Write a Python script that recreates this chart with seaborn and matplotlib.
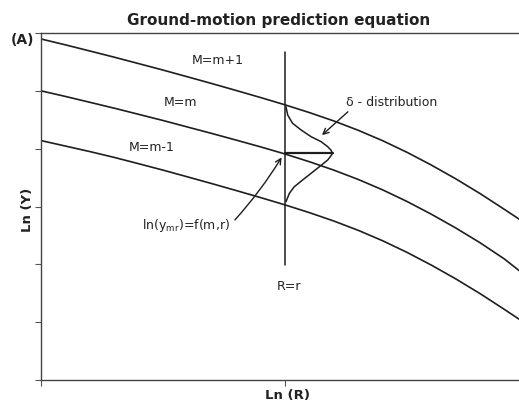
import numpy as np
import pandas as pd
import matplotlib
matplotlib.use("Agg")
import matplotlib.pyplot as plt
import seaborn as sns

# ---- data (axis units: x tick spacing = 1, y tick spacing = 1) ----
ln_r = [0.0, 0.1, 0.2, 0.3, 0.4, 0.5, 0.6, 0.7, 0.8, 0.9, 1.0,
        1.1, 1.2, 1.3, 1.4, 1.5, 1.6, 1.7, 1.8, 1.9, 1.96]
m_plus_1 = [5.897, 5.795, 5.689, 5.582, 5.471, 5.359, 5.243, 5.126, 5.006, 4.884, 4.758,
            4.624, 4.479, 4.318, 4.138, 3.937, 3.716, 3.478, 3.222, 2.948, 2.78]
m_mid = [5.000, 4.903, 4.802, 4.700, 4.594, 4.487, 4.375, 4.263, 4.148, 4.031, 3.908,
         3.774, 3.629, 3.468, 3.288, 3.087, 2.866, 2.628, 2.372, 2.090, 1.89]
m_minus_1 = [4.140, 4.045, 3.950, 3.849, 3.740, 3.629, 3.513, 3.396, 3.276, 3.154, 3.028,
             2.894, 2.749, 2.588, 2.408, 2.207, 1.986, 1.748, 1.492, 1.218, 1.05]

r_value = 1.0
dist_peak = 3.92
dist_dy = [0.806, 0.662, 0.519, 0.403, 0.287, 0.201, 0.114, 0.057, 0.0, -0.057, -0.116,
           -0.232, -0.346, -0.462, -0.578, -0.692, -0.837]
dist_dx = [0.004, 0.011, 0.031, 0.066, 0.107, 0.148, 0.175, 0.188, 0.195, 0.186, 0.175,
           0.141, 0.107, 0.072, 0.038, 0.018, 0.004]
vline_y = [1.99, 5.67]

curve_labels = ["M=m+1", "M=m", "M=m-1"]
y_ticks = [0, 1, 2, 3, 4, 5, 6]
x_ticks = [0, 1]

sns.set_style("white")
plt.rcParams['font.family'] = ['DejaVu Sans']

fig = plt.figure(figsize=(5.19, 4.03), dpi=100)
ax = fig.add_axes([41/519, 23/403, 478/519, 347/403])

line_col = "#1e1e1e"
df = pd.DataFrame({
    "lnR": ln_r * 3,
    "lnY": m_plus_1 + m_mid + m_minus_1,
    "M": [curve_labels[0]] * len(ln_r) + [curve_labels[1]] * len(ln_r) + [curve_labels[2]] * len(ln_r),
})
sns.lineplot(data=df, x="lnR", y="lnY", hue="M", palette=[line_col] * 3,
             legend=False, ax=ax, linewidth=1.2, sort=False, estimator=None)

# vertical line R=r
sns.lineplot(x=[r_value, r_value], y=vline_y, color=line_col, linewidth=1.1, ax=ax,
             sort=False, estimator=None)
# distribution
dist_x = [r_value + d for d in dist_dx]
dist_y = [dist_peak + d for d in dist_dy]
sns.lineplot(x=dist_x, y=dist_y, color=line_col, linewidth=1.1, ax=ax,
             sort=False, estimator=None)
# horizontal line at the mean
sns.lineplot(x=[r_value, r_value + max(dist_dx)], y=[dist_peak, dist_peak],
             color=line_col, linewidth=1.6, ax=ax, sort=False, estimator=None)

ax.set_xticks(x_ticks)
ax.set_yticks(y_ticks)
ax.set_xticklabels([])
ax.set_yticklabels([])
ax.set_xlim(0, 478/244)
ax.set_ylim(0, 6)
ax.tick_params(axis="both", direction="out", length=4, width=0.8, color="#555555",
               bottom=True, left=True)
ax.set_xlabel("")
ax.set_ylabel("")
for s in ["left", "bottom", "top"]:
    ax.spines[s].set_color("#444444")
    ax.spines[s].set_linewidth(1.0)
ax.spines["right"].set_visible(False)

fs = 9
tc = "#222222"
ax.text(0.725, 5.516, curve_labels[0], ha="center", va="center", fontsize=fs, color=tc)
ax.text(0.570, 4.790, curve_labels[1], ha="center", va="center", fontsize=fs, color=tc)
ax.text(0.455, 4.012, curve_labels[2], ha="center", va="center", fontsize=fs, color=tc)
ax.text(1.439, 4.790, "δ - distribution", ha="center", va="center", fontsize=fs, color=tc)
ax.text(0.594, 2.680, r"ln(y$_{\mathregular{mr}}$)=f(m,r)", ha="center", va="center",
        fontsize=fs, color=tc)
ax.text(1.016, 1.625, "R=r", ha="center", va="center", fontsize=fs, color=tc)

ax.annotate("", xy=(1.143, 4.202), xytext=(1.266, 4.669),
            arrowprops=dict(arrowstyle="->", color=line_col, lw=1.0))
ax.annotate("", xy=(0.992, 3.891), xytext=(0.787, 2.732),
            arrowprops=dict(arrowstyle="->", color=line_col, lw=1.0,
                            connectionstyle="arc3,rad=0.05"))

fig.text(279/519, 1 - 20/403, "Ground-motion prediction equation", ha="center", va="center",
         fontsize=11, fontweight="bold", color=tc)
fig.text(23/519, 1 - 40/403, "(A)", ha="center", va="center", fontsize=10, fontweight="bold",
         color=tc)
fig.text(27/519, 1 - 210/403, "Ln (Y)", ha="center", va="center", fontsize=9.5,
         fontweight="bold", rotation=90, color=tc)
fig.text(288/519, 1 - 395/403, "Ln (R)", ha="center", va="center", fontsize=9.5,
         fontweight="bold", color=tc)

fig.savefig("out.png", dpi=100)
